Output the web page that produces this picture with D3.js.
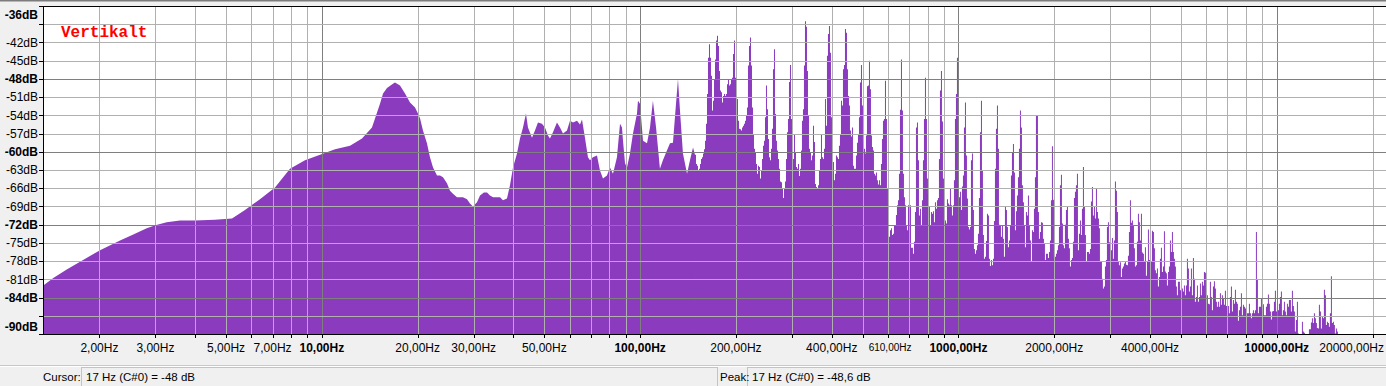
<!DOCTYPE html>
<html><head><meta charset="utf-8">
<script src="https://cdn.jsdelivr.net/npm/d3@7"></script>
<style>html,body{margin:0;padding:0;background:#f0f0f0;overflow:hidden}svg{display:block}</style>
</head><body><svg id="c" width="1386" height="386"></svg>
<script>
// ---- smooth low-frequency part of the spectrum (Hz, dB) ----
const smoothFreqsHz = [1.333,1.433,1.579,1.739,2.009,2.322,2.556,2.817,2.998,3.254,3.583,3.995,4.616,5.22,5.735,6.39,7.125,7.94,8.85,9.87,11.0,12.26,13.37,14.37,15.23,15.57,16.02,16.73,16.97,17.6,18.25,18.92,19.62,20.04,20.34,20.78,21.39,21.86,22.35,23.0,23.51,24.02,24.72,25.27,25.82,26.58,27.76,28.58,29.2,29.84,30.72,31.4,32.3,33.03,33.75,34.5,36.28,37.07,38.16,39.0,39.86,41.03,41.93,42.85,43.78,44.42,45.73,46.73,47.75,49.16,50.23,51.34,52.08,53.23,54.79,56.0,57.23,58.91,60.2,61.52,63.33,64.71,65.66,67.09,68.56,69.56,71.08,73.18,74.78,76.42,78.67,80.39,82.16,84.56,86.45,87.69,88.34,89.63,90.92,92.92,94.95,97.75,98.45,99.9,102.1,105.1,107.4,109.7,112.2,115.4,117.9,121.4,124.1,126.8,128.6,131.5,133.4,136.3,140.4,143.4,146.6];
const smoothLevelsDb = [-82.0,-80.8,-79.4,-78.1,-76.2,-74.6,-73.6,-72.6,-72.1,-71.6,-71.3,-71.3,-71.2,-71.0,-69.6,-67.8,-65.9,-62.8,-61.4,-60.5,-59.6,-59.0,-57.8,-56.0,-52.1,-50.4,-49.5,-48.8,-48.6,-49.1,-50.4,-51.9,-52.7,-53.7,-54.5,-56.5,-58.6,-60.9,-62.6,-63.9,-63.9,-64.2,-65.2,-66.4,-66.9,-67.5,-67.5,-67.8,-68.5,-69.0,-68.3,-67.2,-66.7,-66.7,-67.2,-67.5,-67.5,-68.0,-67.7,-65.5,-62.6,-60.3,-57.8,-56.0,-53.7,-56.0,-57.7,-56.5,-55.2,-55.4,-56.0,-57.3,-57.8,-56.8,-55.2,-56.0,-57.0,-56.5,-54.9,-55.2,-54.9,-55.5,-54.7,-57.7,-60.9,-61.4,-60.9,-60.6,-63.1,-64.4,-63.9,-62.6,-63.6,-60.9,-55.4,-56.0,-58.2,-61.9,-62.6,-60.3,-57.0,-53.7,-51.6,-52.1,-58.2,-58.6,-56.0,-51.6,-56.0,-62.8,-61.4,-59.8,-58.6,-58.5,-54.4,-48.0,-53.2,-60.3,-63.6,-61.4,-59.3];

// ---- finely resolved part: levels (dB) sampled on an even log-frequency grid ----
const fineStartHz = 148.7;
const fineEndHz = 15571;
const fineLevels150to275 = [-60.5,-62.0,-62.3,-63.1,-62.8,-62.0,-61.2,-60.9,-60.3,-59.6,-58.2,-55.4,-50.5,-44.5,-42.3,-44.5,-47.5,-53.2,-51.6,-48.0,-44.8,-41.7,-40.9,-42.6,-46.7,-49.9,-50.2,-51.9,-50.8,-50.5,-50.8,-50.5,-48.9,-48.0,-49.1,-48.9,-48.0,-47.8,-43.9,-41.7,-47.8,-47.8,-51.3,-54.9,-56.2,-56.3,-56.5,-56.0,-55.7,-55.4,-54.9,-54.1,-52.7,-45.8,-42.6,-41.2,-45.8,-52.7,-57.1,-59.5,-60.1,-62.0,-63.6,-62.3,-62.5,-64.4,-63.1,-61.2,-59.0,-58.2,-54.3,-49.1,-53.0,-57.9,-60.9,-61.4,-59.5,-56.2,-46.4,-43.1,-53.8,-58.2,-59.8,-61.2,-62.8,-64.9,-65.0,-66.1,-67.6,-66.1,-64.9,-61.2,-56.8,-54.6,-48.5,-45.7,-54.6,-57.3,-61.2,-57.2,-60.1,-62.5,-62.8,-62.0,-64.0,-62.8,-59.8,-54.9,-53.0,-45.8,-38.5,-39.4,-46.7,-54.1,-59.5,-60.1,-61.4,-60.6,-55.7,-58.4,-65.3,-65.8,-66.1,-65.5,-63.1];
const fineLevels275to680 = [-61.2,-57.1,-60.9,-61.2,-59.5,-51.3,-55.7,-44.2,-40.6,-39.3,-43.7,-54.3,-60.1,-61.7,-64.7,-63.6,-60.6,-60.9,-61.2,-59.0,-57.1,-51.6,-52.4,-46.4,-45.7,-39.8,-40.4,-46.4,-50.8,-52.4,-56.5,-57.5,-56.0,-62.3,-62.8,-62.8,-60.6,-58.5,-57.1,-54.3,-48.6,-45.7,-52.4,-58.4,-59.5,-60.3,-57.3,-49.2,-49.1,-45.0,-49.7,-57.3,-59.2,-59.8,-63.6,-63.9,-63.4,-64.7,-65.4,-64.7,-65.5,-62.0,-57.9,-54.9,-54.6,-48.3,-54.6,-66.1,-68.8,-74.0,-72.9,-72.6,-73.7,-73.5,-72.1,-72.1,-70.4,-68.8,-68.0,-63.6,-53.1,-44.8,-53.2,-63.6,-67.5,-68.8,-72.1,-72.9,-68.8,-63.8,-68.8,-75.8,-75.8,-76.8,-74.8,-69.9,-56.0,-55.2,-61.4,-70.5,-69.4,-72.1,-68.0,-61.4,-54.6,-47.8,-54.6,-64.4,-66.9,-69.1,-72.1,-69.9,-70.2,-69.8,-71.6,-68.3,-69.4,-68.0,-67.6,-61.2,-49.9,-46.7,-55.0,-64.4,-71.3];
const fineLevels680to1690 = [-71.3,-71.8,-67.8,-68.5,-68.8,-66.1,-68.8,-70.5,-68.8,-64.7,-54.6,-50.5,-44.5,-63.1,-67.5,-66.6,-69.6,-65.7,-63.9,-56.0,-51.9,-60.6,-67.7,-72.4,-72.8,-72.4,-61.4,-60.3,-69.6,-76.0,-76.8,-76.2,-75.4,-73.5,-67.6,-56.8,-51.6,-63.1,-73.7,-77.6,-77.3,-74.7,-70.2,-70.5,-77.6,-78.8,-77.8,-78.7,-77.6,-71.4,-62.8,-56.2,-52.4,-59.5,-72.0,-72.1,-74.0,-72.1,-74.3,-77.3,-69.1,-69.6,-72.4,-75.7,-74.6,-72.1,-63.9,-60.1,-58.7,-63.4,-72.9,-69.8,-67.2,-64.2,-59.5,-53.2,-56.0,-65.5,-68.3,-72.1,-75.7,-69.9,-70.5,-67.2,-72.1,-74.6,-78.0,-72.9,-73.2,-69.4,-64.2,-54.1,-54.1,-69.9,-74.3,-73.2,-71.6,-71.7,-74.3,-75.1,-77.8,-76.8,-76.8,-77.5,-76.5,-74.6,-68.0,-59.1,-67.9,-77.6,-77.3,-76.8,-76.2,-75.4,-72.4,-65.5,-63.8,-71.8,-75.4,-75.9,-72.0,-69.6,-69.1,-74.3,-75.9];
const fineLevels1690to4900 = [-78.9,-77.8,-77.5,-74.8,-67.6,-66.6,-65.5,-63.6,-76.2,-73.5,-71.3,-73.7,-69.4,-62.5,-69.1,-73.7,-78.1,-76.5,-76.5,-76.8,-76.0,-68.2,-65.8,-70.5,-69.1,-71.0,-66.1,-69.9,-71.0,-72.6,-78.1,-78.1,-80.9,-82.5,-82.2,-78.9,-77.8,-72.4,-71.6,-74.9,-69.9,-76.2,-74.2,-77.6,-74.6,-64.9,-66.4,-69.9,-78.1,-78.7,-78.2,-80.6,-79.2,-78.9,-78.4,-78.1,-78.6,-78.7,-77.1,-73.2,-68.0,-71.7,-71.3,-72.1,-75.9,-78.9,-78.7,-74.8,-70.2,-71.6,-74.6,-70.2,-76.6,-76.8,-78.0,-75.7,-80.4,-78.1,-72.8,-77.8,-74.4,-78.0,-73.0,-73.2,-75.9,-79.5,-80.0,-79.2,-82.2,-80.6,-77.6,-75.8,-79.8,-78.9,-73.1,-79.7,-80.0,-82.0,-79.8,-78.9,-74.6,-76.5,-73.2,-76.5,-77.6,-78.9,-82.2,-83.6,-81.4,-81.4,-82.8,-82.0,-82.5,-83.0,-82.0,-83.6,-82.0,-77.6,-79.2,-83.0,-82.2,-79.2,-83.6,-77.5,-80.9,-84.7,-83.9,-82.0,-84.7,-83.9,-81.7,-83.6,-81.4,-82.0,-79.8];
const fineLevels4900to15600 = [-79.9,-83.6,-83.6,-85.0,-85.1,-81.4,-83.9,-86.1,-82.2,-81.3,-82.5,-84.7,-85.5,-84.7,-85.5,-83.3,-85.2,-83.6,-84.1,-85.2,-82.9,-85.4,-85.4,-85.4,-86.6,-83.9,-82.2,-86.3,-84.4,-85.0,-82.7,-84.7,-85.0,-87.8,-86.1,-85.5,-83.3,-86.9,-85.2,-85.5,-85.8,-85.5,-86.6,-86.6,-85.0,-86.6,-87.4,-86.6,-86.1,-86.6,-86.1,-73.2,-81.1,-86.6,-85.5,-85.5,-84.1,-85.8,-85.1,-86.9,-86.9,-85.5,-85.0,-83.5,-85.0,-86.3,-87.6,-86.3,-86.2,-84.7,-82.9,-86.3,-85.5,-86.1,-85.0,-83.9,-83.0,-86.9,-86.1,-84.7,-86.3,-86.9,-85.0,-85.5,-84.4,-84.4,-86.3,-82.9,-85.4,-86.3,-89.6,-87.7,-84.7,-89.9,-90,-90,-90,-88.0,-89.6,-89.8,-90,-90,-90,-90,-89.2,-89.2,-88.1,-87.4,-88.2,-86.6,-87.4,-88.2,-89.0,-89.1,-85.2,-86.3,-89.1,-87.2,-87.4,-82.7,-83.6,-88.5,-88.0,-88.2,-88.8,-86.6,-80.5,-88.2,-88.0,-88.5,-89.9,-89.1,-89.6,-90];

// ---- axes ----
const dbTicks = [-36,-39,-42,-45,-48,-51,-54,-57,-60,-63,-66,-69,-72,-75,-78,-81,-84,-87,-90];
const dbUnlabelled = [-39,-87];
const dbMajor = [-36,-48,-60,-72,-84,-90];
const freqLabelTicks = [2,3,5,7,10,20,30,50,100,200,400,1000,2000,4000,10000,20000];
const freqMajor = [10,100,1000,10000];
const smallFreqLabel = 610;
const annotationText = "Vertikalt";
const cursorLabel = "Cursor:", cursorReadout = "17 Hz (C#0) = -48 dB";
const peakLabel = "Peak:", peakReadout = "17 Hz (C#0) = -48,6 dB";

const W = 1386, L = 43, R = 1386, T = 6, B = 334;
const fillColor = "#8a3bbe";
const svg = d3.select("#c");
const x = d3.scaleLog().domain([1.33, 22050]).range([L, R]);
const y = d3.scaleLinear().domain([-90, -36]).range([B, T]);

// top frame strip
svg.append("rect").attr("x",0).attr("y",0).attr("width",W).attr("height",1.5).attr("fill","#7c7c7c");
// plot background
svg.append("rect").attr("x",L).attr("y",T).attr("width",R-L).attr("height",B-T).attr("fill","#ffffff");

// spectrum data
const smooth = smoothFreqsHz.map((f,i)=>({f, db: smoothLevelsDb[i]}));
const fineLevels = [].concat(fineLevels150to275, fineLevels275to680, fineLevels680to1690, fineLevels1690to4900, fineLevels4900to15600);
const n = fineLevels.length;
const fine = fineLevels.map((db,i)=>({f: fineStartHz*Math.pow(fineEndHz/fineStartHz, i/(n-1)), db}));

svg.append("clipPath").attr("id","pc").append("rect").attr("x",L).attr("y",T).attr("width",R-L).attr("height",B-T);
const g = svg.append("g").attr("clip-path","url(#pc)");
const areaLin = d3.area().x(d=>x(d.f)).y0(y(-90)).y1(d=>y(d.db)).curve(d3.curveLinear);
const areaStep = d3.area().x(d=>x(d.f)).y0(y(-90)).y1(d=>y(d.db)).curve(d3.curveStepAfter);
g.append("path").datum(smooth.concat([fine[0]])).attr("d",areaLin).attr("fill",fillColor);
g.append("path").datum(fine).attr("d",areaStep).attr("fill",fillColor);

// grid (drawn over the fill)
const gridFreqs = [];
for (let e = 0; e <= 4; e++) for (let m = 1; m <= 9; m++) { const f = m*Math.pow(10,e); if (f > 1.33 && f < 22050) gridFreqs.push(f); }
const grid = svg.append("g").attr("shape-rendering","crispEdges");
gridFreqs.forEach(f=>{
  const px = Math.round(x(f))+0.5;
  grid.append("line").attr("x1",px).attr("x2",px).attr("y1",T).attr("y2",B)
    .attr("stroke", freqMajor.includes(f) ? "#7f7f7f" : "#b0b0b0").attr("stroke-width",1);
});
dbTicks.filter(d=>d>-90 && d<-36).forEach(d=>{
  const py = Math.round(y(d))+0.5;
  grid.append("line").attr("x1",L).attr("x2",R).attr("y1",py).attr("y2",py)
    .attr("stroke", dbMajor.includes(d) ? "#7f7f7f" : "#b0b0b0").attr("stroke-width",1);
});

// frame lines
const frame = svg.append("g").attr("shape-rendering","crispEdges");
frame.append("line").attr("x1",L+0.5).attr("x2",L+0.5).attr("y1",T).attr("y2",B+1).attr("stroke","#000");
frame.append("line").attr("x1",L).attr("x2",R).attr("y1",T+0.5).attr("y2",T+0.5).attr("stroke","#000");
frame.append("line").attr("x1",L).attr("x2",R).attr("y1",B+0.5).attr("y2",B+0.5).attr("stroke","#000");

// y axis ticks + labels
const yAx = svg.append("g").attr("font-family","'Liberation Sans', Arial, sans-serif").attr("font-size","12px").attr("fill","#000");
dbTicks.forEach(d=>{
  const py = Math.round(y(d))+0.5;
  yAx.append("line").attr("x1",L-4).attr("x2",L).attr("y1",py).attr("y2",py).attr("stroke","#000").attr("shape-rendering","crispEdges");
  if (dbUnlabelled.includes(d)) return;
  const ly = Math.min(Math.max(y(d), T+9), B-7);
  yAx.append("text").attr("x",L-5).attr("y",ly).attr("dy","0.35em").attr("text-anchor","end")
    .attr("font-weight", dbMajor.includes(d) ? "bold" : "normal").text(d + "dB");
});

// x axis ticks + labels
const xAx = svg.append("g").attr("font-family","'Liberation Sans', Arial, sans-serif").attr("font-size","12px").attr("fill","#000");
gridFreqs.forEach(f=>{
  const px = Math.round(x(f))+0.5;
  xAx.append("line").attr("x1",px).attr("x2",px).attr("y1",B).attr("y2",B+4).attr("stroke","#000").attr("shape-rendering","crispEdges");
});
const fmtHz = f => d3.format(".2f")(f).replace(".", ",") + "Hz";
freqLabelTicks.forEach(f=>{
  const t = xAx.append("text").attr("x",x(f)).attr("y",352).attr("text-anchor","middle")
    .attr("font-weight", freqMajor.includes(f) ? "bold" : "normal").text(fmtHz(f));
  // keep the last label inside the window (the original shifts it left)
  const bb = t.node().getBBox();
  if (bb.x + bb.width > W - 2) t.attr("text-anchor","end").attr("x", W - 2);
});
xAx.append("text").attr("x",x(smallFreqLabel)).attr("y",351).attr("text-anchor","middle").attr("font-size","10px").text(fmtHz(smallFreqLabel));

// annotation
svg.append("text").attr("x",61).attr("y",37).attr("font-family","'Liberation Mono', 'Courier New', monospace")
  .attr("font-weight","bold").attr("font-size","16px").attr("fill","#ff0000").text(annotationText);

// status bar
const sb = svg.append("g").attr("shape-rendering","crispEdges");
sb.append("line").attr("x1",0).attr("x2",W).attr("y1",365.5).attr("y2",365.5).attr("stroke","#c8c8c8");
sb.append("line").attr("x1",0).attr("x2",W).attr("y1",366.5).attr("y2",366.5).attr("stroke","#ffffff");
sb.append("rect").attr("x",81.5).attr("y",367.5).attr("width",636).attr("height",20).attr("fill","none").attr("stroke","#c3c3c3");
sb.append("rect").attr("x",747.5).attr("y",367.5).attr("width",640).attr("height",20).attr("fill","none").attr("stroke","#c3c3c3");
const st = svg.append("g").attr("font-family","'Liberation Sans', Arial, sans-serif").attr("font-size","11.5px").attr("fill","#000");
st.append("text").attr("x",43).attr("y",381).text(cursorLabel);
st.append("text").attr("x",86).attr("y",381).text(cursorReadout);
st.append("text").attr("x",720).attr("y",381).text(peakLabel);
st.append("text").attr("x",752).attr("y",381).text(peakReadout);
</script></body></html>
